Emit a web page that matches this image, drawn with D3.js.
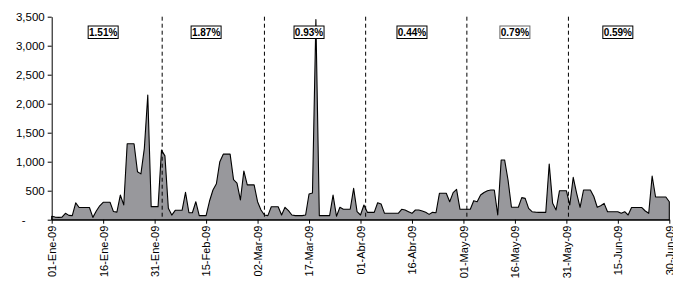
<!DOCTYPE html>
<html lang="es">
<head>
<meta charset="UTF-8">
<title>Chart</title>
<script src="https://cdn.jsdelivr.net/npm/d3@7"></script>
<style>
  body { margin: 0; background: #fff; }
  text { font-family: "Liberation Sans", Arial, sans-serif; }
  .axis path, .axis line { stroke: #000; }
  .area { fill: #98989c; stroke: #000; stroke-width: 1.1px; stroke-linejoin: round; }
  .divider { stroke: #000; stroke-width: 1px; stroke-dasharray: 4,3; }
</style>
</head>
<body>
<svg width="673" height="283"></svg>
<script>
// daily values, 01-Ene-09 .. 30-Jun-09 (181 days)
var values = [
  60, 45, 40, 45, 110, 75, 70, 290, 210, 210,
  210, 210, 40, 150, 240, 300, 300, 300, 140, 130,
  425, 255, 1310, 1310, 1310, 828, 790, 1230, 2150, 225,
  225, 225, 1200, 1100, 196, 80, 162, 162, 162, 472,
  120, 120, 310, 70, 70, 70, 322, 512, 620, 1000,
  1130, 1130, 1130, 690, 630, 340, 840, 600, 600, 600,
  310, 167, 81, 70, 224, 224, 224, 81, 214, 156,
  81, 70, 70, 70, 81, 443, 460, 3450, 70, 70,
  70, 70, 425, 60, 214, 180, 180, 180, 541, 138,
  81, 253, 127, 127, 127, 293, 270, 110, 110, 110,
  110, 110, 179, 167, 138, 110, 167, 167, 150, 127,
  92, 127, 120, 455, 455, 455, 310, 466, 524, 179,
  179, 179, 179, 328, 310, 425, 470, 500, 512, 512,
  81, 1030, 1030, 684, 214, 214, 214, 380, 368, 196,
  138, 130, 127, 127, 127, 960, 282, 167, 500, 500,
  500, 253, 731, 455, 214, 512, 512, 512, 400, 214,
  240, 282, 138, 138, 138, 138, 110, 138, 81, 210,
  210, 210, 210, 150, 110, 753, 392, 392, 392, 392,
  310
];
var startDate = new Date(2009, 0, 1);
var monthNames = ["Ene", "Feb", "Mar", "Abr", "May", "Jun", "Jul", "Ago", "Sep", "Oct", "Nov", "Dic"];
var yTicks = [0, 500, 1000, 1500, 2000, 2500, 3000, 3500];
var xTickDays = d3.range(0, 181, 15);
// dashed separators (day offsets) and the percentage boxes
var dividerDays = [32.2, 62, 91.5, 121, 150.6];
var boxDays = [15, 45, 75, 105, 135, 165];
var boxLabels = ["1.51%", "1.87%", "0.93%", "0.44%", "0.79%", "0.59%"];

function dayToDate(d) { return new Date(startDate.getTime() + d * 864e5); }

var data = values.map(function (v, i) { return { date: dayToDate(i), value: v }; });

var svg = d3.select("svg"),
    margin = { top: 16.7, right: 3.7, bottom: 63.3, left: 51.7 },
    width = +svg.attr("width") - margin.left - margin.right,
    height = +svg.attr("height") - margin.top - margin.bottom,
    g = svg.append("g").attr("transform", "translate(" + margin.left + "," + margin.top + ")");

var x = d3.scaleTime()
    .domain([startDate, dayToDate(180)])
    .range([0, width]);
var y = d3.scaleLinear()
    .domain([0, 3500])
    .range([height, 0]);

var area = d3.area()
    .x(function (d) { return x(d.date); })
    .y0(height)
    .y1(function (d) { return y(d.value); });

g.append("path")
    .datum(data)
    .attr("class", "area")
    .attr("d", area);

// dashed month separators
g.selectAll(".divider")
    .data(dividerDays)
    .enter().append("line")
    .attr("class", "divider")
    .attr("x1", function (d) { return x(dayToDate(d)); })
    .attr("x2", function (d) { return x(dayToDate(d)); })
    .attr("y1", 0)
    .attr("y2", height);

var fmtDate = function (dt) {
    return d3.timeFormat("%d")(dt) + "-" + monthNames[dt.getMonth()] + "-" + d3.timeFormat("%y")(dt);
};

var xAxis = g.append("g")
    .attr("class", "axis axis--x")
    .attr("transform", "translate(0," + height + ")")
    .call(d3.axisBottom(x)
        .tickValues(xTickDays.map(dayToDate))
        .tickSize(4)
        .tickSizeOuter(0)
        .tickFormat(fmtDate));
xAxis.selectAll("text")
    .attr("font-size", 11)
    .attr("fill", "#000")
    .attr("transform", "rotate(-90)")
    .attr("text-anchor", "end")
    .attr("x", -6)
    .attr("y", 0)
    .attr("dy", "0.35em");

var yAxis = g.append("g")
    .attr("class", "axis axis--y")
    .call(d3.axisLeft(y)
        .tickValues(yTicks)
        .tickSize(4)
        .tickSizeOuter(0)
        .tickFormat(function (d) { return d === 0 ? "-" : d3.format(",")(d); }));
yAxis.selectAll("text")
    .attr("font-size", 11.5)
    .attr("fill", "#000")
    .attr("x", -7);
yAxis.select(".tick text").attr("x", -26);

// percentage boxes
var boxes = g.selectAll(".pct")
    .data(boxDays)
    .enter().append("g")
    .attr("class", "pct")
    .attr("transform", function (d) { return "translate(" + x(dayToDate(d)) + ",15.3)"; });
boxes.append("rect")
    .attr("x", -15)
    .attr("y", -6)
    .attr("width", 30)
    .attr("height", 12.5)
    .attr("fill", "#fff")
    .attr("stroke", function (d, i) { return i === 4 ? "#666" : "#000"; })
    .attr("stroke-width", 1);
boxes.append("text")
    .attr("text-anchor", "middle")
    .attr("dy", "0.36em")
    .attr("font-size", 10)
    .attr("font-weight", "bold")
    .text(function (d, i) { return boxLabels[i]; });
</script>
</body>
</html>
